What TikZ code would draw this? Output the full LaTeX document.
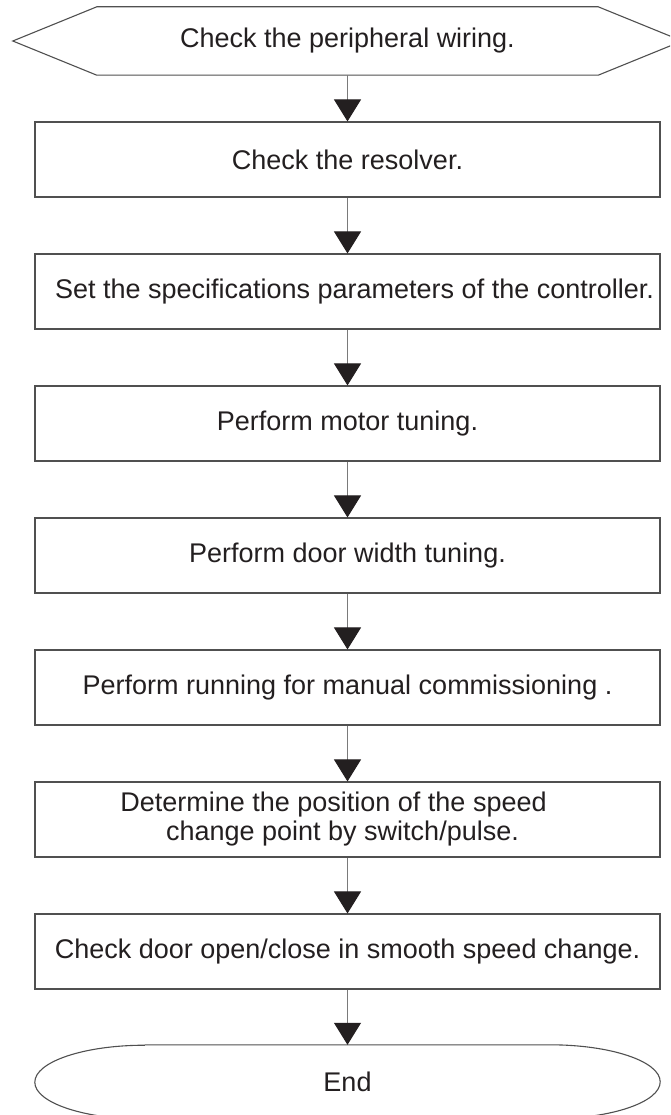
\documentclass[tikz,border=0pt]{standalone}
\usepackage{fontspec}
\setmainfont{Liberation Sans}
\usetikzlibrary{arrows.meta,calc}
\definecolor{boxline}{HTML}{505050}
\definecolor{arrline}{HTML}{7A7A7A}
\definecolor{headcol}{HTML}{231F20}
\begin{document}
\begin{tikzpicture}[x=1pt,y=1pt,
  every node/.style={font=\fontsize{27}{29}\selectfont, text=headcol},
  stepbox/.style={draw=boxline, line width=1.1pt, minimum width=625pt, minimum height=75pt, inner sep=0pt, align=center},
  ghost/.style={inner sep=0pt},
  flow/.style={draw=arrline, line width=1pt, -{Triangle[width=27pt,length=22pt,color=headcol]}},
  outline/.style={draw=boxline, line width=1.1pt}]
\useasboundingbox (0,0) rectangle (670,-1115);
\clip (0,0) rectangle (670,-1115);
\fill[white] (0,0) rectangle (670,-1115);
% start hexagon
\node[ghost, minimum width=501pt, minimum height=68pt] (start) at (347.5,-41) {Check the peripheral wiring.};
\draw[outline] (start.north west) -- (start.north east) -- ($(start.east)+(84,0)$) -- (start.south east) -- (start.south west) -- ($(start.west)+(-84,0)$) -- cycle;
\node[stepbox] (b1) at (347.5,-159.5) {Check the resolver.};
\node[stepbox] (b2) at (347.5,-291.5) {\hspace*{14pt}Set the specifications parameters of the controller.};
\node[stepbox] (b3) at (347.5,-423.5) {Perform motor tuning.};
\node[stepbox] (b4) at (347.5,-555.5) {Perform door width tuning.};
\node[stepbox] (b5) at (347.5,-687.5) {Perform running for manual commissioning .};
\node[stepbox] (b6) at (347.5,-819.5) {Determine the position of the speed\hspace*{28pt}\\ change point by switch/pulse.\hspace*{10pt}};
\node[stepbox] (b7) at (347.5,-951.5) {Check door open/close in smooth speed change.};
% end terminator
\node[ghost, minimum width=625pt, minimum height=74pt] (endn) at (347.5,-1082) {End};
\draw[outline] ($(endn.north west)+(110,0)$) -- ($(endn.north east)+(-110,0)$)
  arc[start angle=90, end angle=-90, x radius=110, y radius=37]
  -- ($(endn.south west)+(110,0)$)
  arc[start angle=270, end angle=90, x radius=110, y radius=37];
% connectors
\draw[flow] (start.south) -- (b1.north);
\draw[flow] (b1) -- (b2);
\draw[flow] (b2) -- (b3);
\draw[flow] (b3) -- (b4);
\draw[flow] (b4) -- (b5);
\draw[flow] (b5) -- (b6);
\draw[flow] (b6) -- (b7);
\draw[flow] (b7) -- (endn);
\end{tikzpicture}
\end{document}
